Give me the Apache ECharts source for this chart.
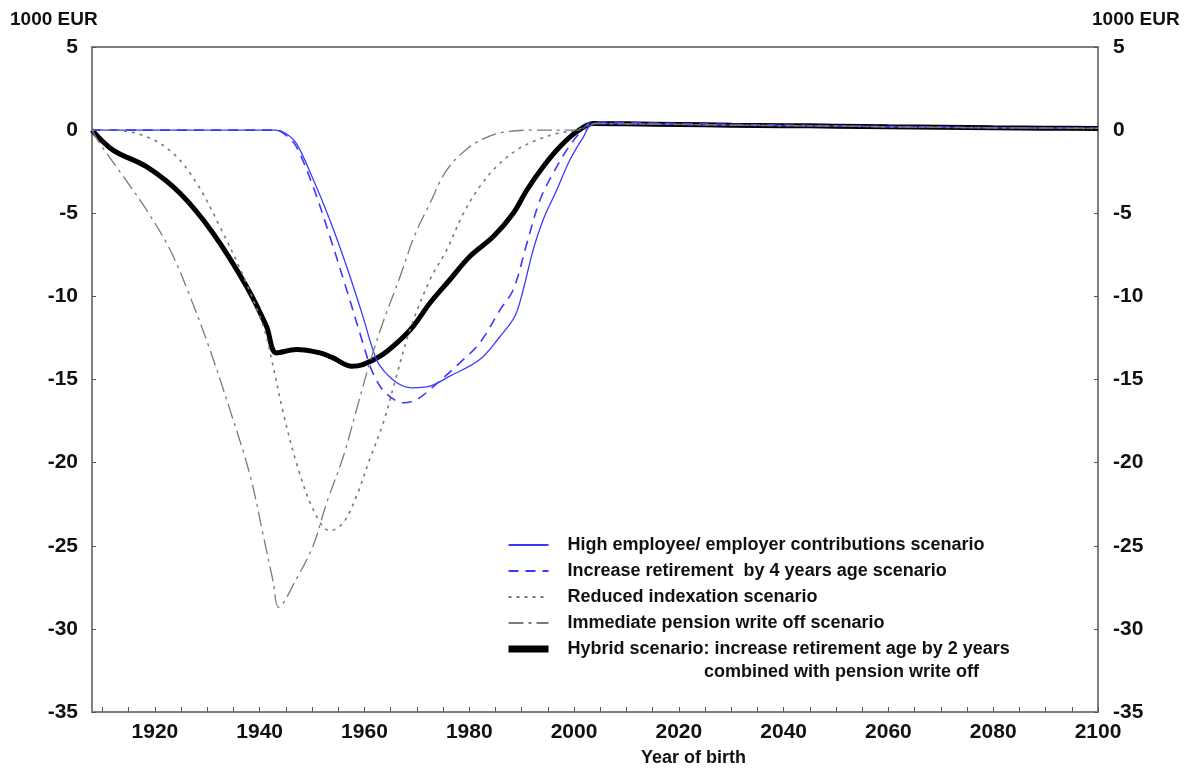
<!DOCTYPE html>
<html>
<head>
<meta charset="utf-8">
<script src="https://cdn.jsdelivr.net/npm/echarts@6/dist/echarts.min.js"></script>
<style>
html,body{margin:0;padding:0;background:#fff;}
#chart{width:1196px;height:769px;}
</style>
</head>
<body>
<div id="chart"></div>
<script>
// ---- data (thousand EUR by year of birth) ----
var seriesNames = [
  'High employee/ employer contributions scenario',
  'Increase retirement  by 4 years age scenario',
  'Reduced indexation scenario',
  'Immediate pension write off scenario',
  'Hybrid scenario: increase retirement age by 2 years'
];
var hybridSecondLine = 'combined with pension write off';

var xLabelValues = [1920, 1940, 1960, 1980, 2000, 2020, 2040, 2060, 2080, 2100];
var xTickValues = [1910,1915,1920,1925,1930,1935,1940,1945,1950,1955,1960,1965,1970,1975,1980,1985,1990,1995,2000,2005,2010,2015,2020,2025,2030,2035,2040,2045,2050,2055,2060,2065,2070,2075,2080,2085,2090,2095,2100];

var highYears = [1908,1943,1945,1947,1950,1953.4,1956.6,1959.7,1961.6,1963,1966.2,1969,1972.5,1976.3,1982,1985.9,1988.7,1990.3,1992.2,1994.1,1996.7,1999.2,2001.8,2003.7,2010,2020,2030,2040,2050,2060,2070,2080,2090,2100];
var highVals  = [0,0,-0.2,-0.8,-2.8,-5.4,-8.2,-11.2,-13.2,-14.2,-15.2,-15.5,-15.4,-14.8,-13.8,-12.4,-11.2,-9.6,-7.2,-5.4,-3.6,-1.8,-0.4,0.4,0.38,0.34,0.3,0.27,0.24,0.2,0.17,0.14,0.12,0.1];

var retireYears = [1908,1943,1945,1947,1950.2,1953.4,1956.6,1959.7,1961.6,1964,1967.5,1970,1972.5,1978.2,1982,1985.9,1988.4,1991,1993.5,1996,1998.6,2001,2003.6,2010,2020,2030,2040,2050,2060,2070,2080,2090,2100];
var retireVals  = [0,0,-0.3,-1.0,-3.4,-6.4,-9.6,-12.8,-14.6,-15.8,-16.4,-16.2,-15.6,-14.0,-12.8,-10.8,-9.6,-6.8,-4.2,-2.6,-1.2,-0.2,0.5,0.45,0.4,0.35,0.3,0.26,0.22,0.18,0.15,0.13,0.12];

var indexYears = [1908,1912,1918.4,1923.5,1928,1932.4,1936.9,1940.7,1942,1944.5,1947,1950.2,1953.4,1956,1958.5,1961,1963.6,1966.1,1968.7,1972.5,1975.7,1978.9,1982,1985.2,1989,1992.9,1996.7,2000.5,2004,2010,2020,2030,2040,2050,2060,2070,2080,2090,2100];
var indexVals  = [0,0,-0.4,-1.4,-3.2,-5.8,-8.8,-11.8,-13.4,-17.0,-20.0,-22.8,-24.1,-23.6,-22.0,-19.8,-17.6,-14.8,-12.0,-9.0,-7.2,-5.0,-3.4,-2.2,-1.2,-0.6,-0.2,0,0.4,0.38,0.34,0.3,0.27,0.24,0.2,0.17,0.14,0.12,0.1];

var writeYears = [1908,1909.5,1914,1918.4,1922.9,1926.7,1930.5,1934.3,1938.2,1940.7,1942.6,1943.6,1947,1950.2,1952.8,1956,1958.5,1961,1963.5,1966.8,1969.5,1972.5,1975.7,1980.1,1984,1987.1,1991.6,2002,2004,2010,2020,2030,2040,2050,2060,2070,2080,2090,2100];
var writeVals  = [0,-0.8,-2.8,-4.8,-7.2,-10.0,-13.2,-16.8,-20.8,-24.4,-27.2,-28.7,-27.0,-25.0,-22.4,-19.6,-16.8,-14.0,-11.6,-8.8,-6.4,-4.4,-2.4,-1.0,-0.35,-0.1,0,0,0.4,0.38,0.34,0.3,0.27,0.24,0.2,0.17,0.14,0.12,0.1];

var hybridYears = [1908,1912,1918.4,1924.8,1931.1,1937.5,1941.3,1943.2,1947,1951.5,1954,1957.6,1959.7,1963,1966.2,1969.3,1972.5,1976.3,1980.1,1984.6,1988.4,1991,1994.1,1997.3,2000.5,2003.7,2010,2020,2030,2040,2050,2060,2070,2080,2090,2100];
var hybridVals  = [0,-1.2,-2.2,-3.8,-6.2,-9.4,-11.8,-13.4,-13.2,-13.4,-13.7,-14.2,-14.1,-13.6,-12.8,-11.8,-10.4,-9.0,-7.6,-6.4,-5.0,-3.6,-2.2,-1.0,-0.1,0.4,0.38,0.34,0.3,0.27,0.24,0.2,0.17,0.14,0.12,0.1];

function pairs(xs, ys){ return xs.map(function(x,i){ return [x, ys[i]]; }); }

var FONT = '"Liberation Sans", Arial, Helvetica, sans-serif';
var BLUE = '#3a3aff';
var GRAY = '#7a7a7a';

var chart = echarts.init(document.getElementById('chart'), null, {renderer:'canvas'});

function yAx(pos){
  return {
    type:'value', position:pos, min:-35, max:5, interval:5,
    axisLine:{show:true, lineStyle:{color:'#808080', width:2}},
    axisTick:{show:true, inside:true, length:4, lineStyle:{color:'#555'}},
    axisLabel:{fontSize:21, fontWeight:'bold', color:'#111', fontFamily:FONT, margin:pos==='left'?14:15},
    splitLine:{show:false}
  };
}

var common = {type:'line', showSymbol:false, symbol:'none', smooth:0.35, animation:false};

var legendData = seriesNames.map(function(n, i){
  return i === 4 ? {name:n, lineStyle:{width:7, color:'#000'}} : {name:n};
});

chart.setOption({
  animation:false,
  grid:{left:92, right:98, top:47, bottom:57, show:true, borderColor:'#808080', borderWidth:2, containLabel:false},
  xAxis:{
    type:'value', min:1908, max:2100,
    axisLine:{show:true, onZero:false, lineStyle:{color:'#808080', width:2}},
    axisTick:{show:true, inside:true, length:5, customValues:xTickValues, lineStyle:{color:'#555'}},
    axisLabel:{customValues:xLabelValues, formatter:function(v){ return String(v); },
      fontSize:21, fontWeight:'bold', color:'#111', fontFamily:FONT, margin:10},
    splitLine:{show:false}
  },
  yAxis:[yAx('left'), yAx('right')],
  legend:{
    orient:'vertical', left:500, top:531, itemWidth:40, itemHeight:14, itemGap:8,
    data:legendData,
    itemStyle:{opacity:0, borderWidth:0},
    textStyle:{fontSize:18, fontWeight:'bold', color:'#111', fontFamily:FONT, lineHeight:18, padding:[0,0,0,14]},
    selectedMode:false
  },
  graphic:[
    {type:'text', left:10, top:10, style:{text:'1000 EUR', font:'bold 19px '+FONT, fill:'#111'}},
    {type:'text', left:1092, top:10, style:{text:'1000 EUR', font:'bold 19px '+FONT, fill:'#111'}},
    {type:'text', left:641, top:749, style:{text:'Year of birth', font:'bold 18px '+FONT, fill:'#111'}},
    {type:'text', left:704, top:663, style:{text:hybridSecondLine, font:'bold 18px '+FONT, fill:'#111'}}
  ],
  series:[
    Object.assign({}, common, {name:seriesNames[4], data:pairs(hybridYears, hybridVals), z:2,
      lineStyle:{color:'#000', width:5}, itemStyle:{color:'#000'}}),
    Object.assign({}, common, {name:seriesNames[0], data:pairs(highYears, highVals), z:3,
      lineStyle:{color:BLUE, width:1.3, type:'solid'}, itemStyle:{color:BLUE}}),
    Object.assign({}, common, {name:seriesNames[1], data:pairs(retireYears, retireVals), z:3,
      lineStyle:{color:BLUE, width:1.6, type:[10,7]}, itemStyle:{color:BLUE}}),
    Object.assign({}, common, {name:seriesNames[2], data:pairs(indexYears, indexVals), z:3,
      lineStyle:{color:GRAY, width:1.6, type:[3,5]}, itemStyle:{color:GRAY}}),
    Object.assign({}, common, {name:seriesNames[3], data:pairs(writeYears, writeVals), z:3,
      lineStyle:{color:GRAY, width:1.3, type:[15,5,3,5]}, itemStyle:{color:GRAY}})
  ]
});
</script>
</body>
</html>
